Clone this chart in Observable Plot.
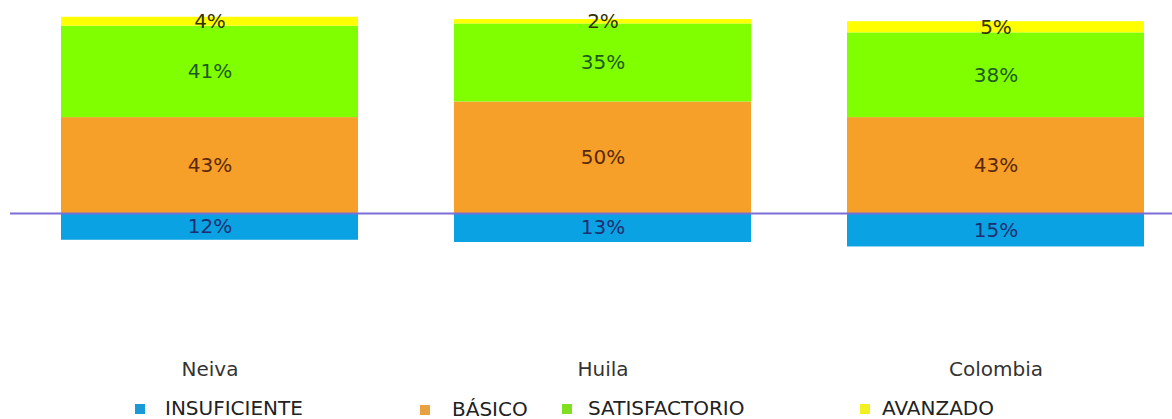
<!DOCTYPE html>
<html>
<head>
<meta charset="utf-8">
<script src="https://cdn.jsdelivr.net/npm/d3@7"></script>
<script src="https://cdn.jsdelivr.net/npm/@observablehq/plot@0.6"></script>
<style>
  html, body { margin: 0; padding: 0; background: #fff; }
  #chart { width: 1172px; }
  #legend { position: relative; width: 1172px; height: 29px; font-family: "DejaVu Sans", sans-serif; font-size: 20px; color: #222; }
  #legend .sw { position: absolute; width: 10px; height: 10px; }
  #legend .lb { position: absolute; line-height: 22px; white-space: nowrap; }
</style>
</head>
<body>
<div id="chart"></div>
<div id="legend"></div>
<script>
const categories = ["Neiva", "Huila", "Colombia"];
const levels = ["INSUFICIENTE", "BÁSICO", "SATISFACTORIO", "AVANZADO"];
const insuficiente = [12, 13, 15];
const basico = [43, 50, 43];
const satisfactorio = [41, 35, 38];
const avanzado = [4, 2, 5];

const fillColors = {"INSUFICIENTE": "#0aa2e2", "BÁSICO": "#f6a02a", "SATISFACTORIO": "#80ff00", "AVANZADO": "#ffff00"};
const textColors = {"INSUFICIENTE": "#1d2f70", "BÁSICO": "#5a2808", "SATISFACTORIO": "#1d5a1d", "AVANZADO": "#333300"};
const legendSwatch = {"INSUFICIENTE": "#1a9ad6", "BÁSICO": "#e8a040", "SATISFACTORIO": "#80e020", "AVANZADO": "#f2f020"};

const series = [insuficiente, basico, satisfactorio, avanzado];
const rows = [];
categories.forEach((c, i) => {
  levels.forEach((l, j) => {
    const v = series[j][i];
    rows.push({cat: c, level: l, value: l === "INSUFICIENTE" ? -v : v, label: v + "%"});
  });
});

const chart = Plot.plot({
  width: 1172,
  height: 390,
  marginTop: 0,
  marginBottom: 30,
  marginLeft: 10,
  marginRight: 0,
  style: {fontFamily: "DejaVu Sans, sans-serif", background: "#fff"},
  x: {domain: categories, range: [60, 1145], paddingInner: 0.245, paddingOuter: 0, label: null},
  y: {domain: [-20, 90], range: [257.6, 12.3], axis: null},
  color: {type: "identity"},
  marks: [
    Plot.barY(rows, Plot.stackY({x: "cat", y: "value", z: "level", order: levels, fill: d => fillColors[d.level], inset: 0})),
    Plot.ruleY([0], {stroke: "#7b6fd6", strokeWidth: 2}),
    Plot.text(rows, Plot.stackY({x: "cat", y: "value", z: "level", order: levels, text: "label", fill: d => textColors[d.level], fontSize: 20})),
    Plot.axisX({tickSize: 0, tickPadding: 1, fontSize: 20, fill: "#333", label: null})
  ]
});
document.getElementById("chart").appendChild(chart);

const legendPos = [
  {level: "INSUFICIENTE", sx: 135, tx: 165, dy: 0},
  {level: "BÁSICO", sx: 420, tx: 452, dy: 1},
  {level: "SATISFACTORIO", sx: 562, tx: 588, dy: 0},
  {level: "AVANZADO", sx: 860, tx: 882, dy: 0}
];
const legend = document.getElementById("legend");
legendPos.forEach(p => {
  const s = document.createElement("div");
  s.className = "sw";
  s.style.left = p.sx + "px";
  s.style.top = (14 + p.dy) + "px";
  s.style.background = legendSwatch[p.level];
  legend.appendChild(s);
  const t = document.createElement("div");
  t.className = "lb";
  t.style.left = p.tx + "px";
  t.style.top = (7 + p.dy) + "px";
  t.textContent = p.level;
  legend.appendChild(t);
});
</script>
</body>
</html>
